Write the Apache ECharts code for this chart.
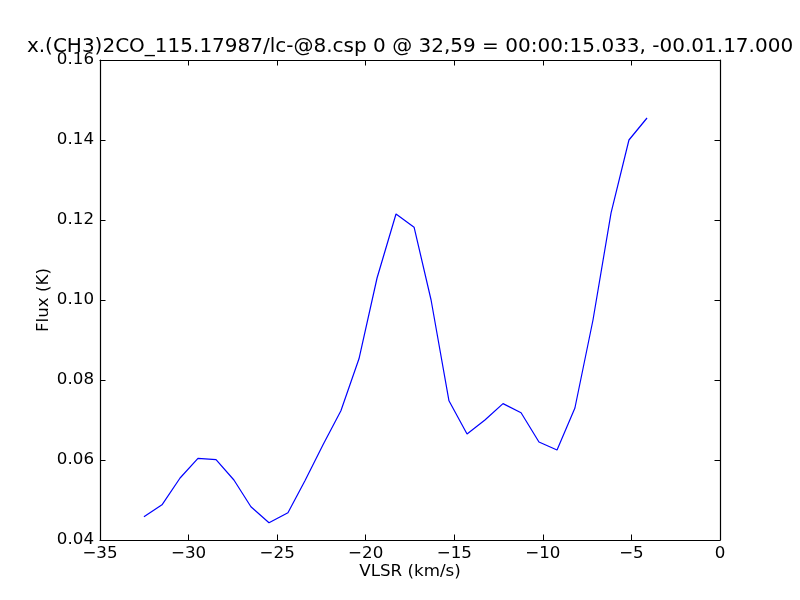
<!DOCTYPE html>
<html><head><meta charset="utf-8">
<script src="https://cdn.jsdelivr.net/npm/echarts@6/dist/echarts.min.js"></script>
<style>html,body{margin:0;padding:0;background:#fff}#c{width:800px;height:600px}</style>
</head><body><div id="c"></div>
<script>
var titleText = 'x.(CH3)2CO_115.17987/lc-@8.csp 0 @ 32,59 = 00:00:15.033, -00.01.17.000';
var xLabel = 'VLSR (km/s)';
var yLabel = 'Flux (K)';
var velocity = [-32.52,-31.50,-30.48,-29.47,-28.45,-27.44,-26.48,-25.46,-24.39,-23.43,-22.41,-21.40,-20.38,-19.36,-18.29,-17.27,-16.31,-15.30,-14.28,-13.27,-12.25,-11.23,-10.22,-9.20,-8.19,-7.17,-6.15,-5.14,-4.12];
var flux = [0.0458,0.0488,0.0555,0.0604,0.0601,0.0550,0.0483,0.0443,0.0468,0.0548,0.0638,0.0723,0.0853,0.1055,0.1215,0.1182,0.1000,0.0748,0.0665,0.0700,0.0741,0.0718,0.0645,0.0625,0.0730,0.0950,0.1218,0.1400,0.1455];
var xTicks = [-35,-30,-25,-20,-15,-10,-5,0];
var yTicks = [0.04,0.06,0.08,0.10,0.12,0.14,0.16];

var font = 'DejaVu Sans';
function fmtX(v){ v = Math.round(v); return v < 0 ? '\u2212' + Math.abs(v) : String(v); }
function fmtY(v){ return v.toFixed(2); }
var chart = echarts.init(document.getElementById('c'), null, {renderer:'canvas'});
var tickStyle = {show:true, inside:true, length:5.5, lineStyle:{color:'#000', width:1}};
var pts = velocity.map(function(v,i){ return [v, flux[i]]; });
chart.setOption({
  animation:false,
  backgroundColor:'#fff',
  grid:{left:100, right:80, top:60, bottom:60, show:false},
  graphic:[
    {type:'text', x:410, y:47, style:{text:titleText, font:'20px "DejaVu Sans"', fill:'#000', textAlign:'center', textVerticalAlign:'middle'}},
    {type:'text', x:410, y:572, style:{text:xLabel, font:'16.7px "DejaVu Sans"', fill:'#000', textAlign:'center', textVerticalAlign:'middle'}},
    {type:'text', x:44, y:300, rotation:Math.PI/2, style:{text:yLabel, font:'16.7px "DejaVu Sans"', fill:'#000', textAlign:'center', textVerticalAlign:'middle'}}
  ],
  xAxis:[
    {type:'value', min:xTicks[0], max:xTicks[xTicks.length-1], interval:5, position:'bottom',
     axisLine:{show:true, onZero:false, lineStyle:{color:'#000', width:1.2}},
     axisTick:tickStyle, splitLine:{show:false},
     axisLabel:{formatter:fmtX, color:'#000', fontFamily:font, fontSize:16.7, margin:5}},
    {type:'value', min:xTicks[0], max:xTicks[xTicks.length-1], interval:5, position:'top',
     axisLine:{show:true, onZero:false, lineStyle:{color:'#000', width:1.2}},
     axisTick:tickStyle, splitLine:{show:false}, axisLabel:{show:false}}
  ],
  yAxis:[
    {type:'value', min:yTicks[0], max:yTicks[yTicks.length-1], interval:0.02, position:'left',
     axisLine:{show:true, onZero:false, lineStyle:{color:'#000', width:1.2}},
     axisTick:tickStyle, splitLine:{show:false},
     axisLabel:{formatter:fmtY, color:'#000', fontFamily:font, fontSize:16.7, margin:6}},
    {type:'value', min:yTicks[0], max:yTicks[yTicks.length-1], interval:0.02, position:'right',
     axisLine:{show:true, onZero:false, lineStyle:{color:'#000', width:1.2}},
     axisTick:tickStyle, splitLine:{show:false}, axisLabel:{show:false}}
  ],
  series:[{type:'line', data:pts, xAxisIndex:0, yAxisIndex:0, showSymbol:false, symbol:'none',
    lineStyle:{color:'#0000ff', width:1.2}, itemStyle:{color:'#0000ff'}, z:5}]
});
</script></body></html>
